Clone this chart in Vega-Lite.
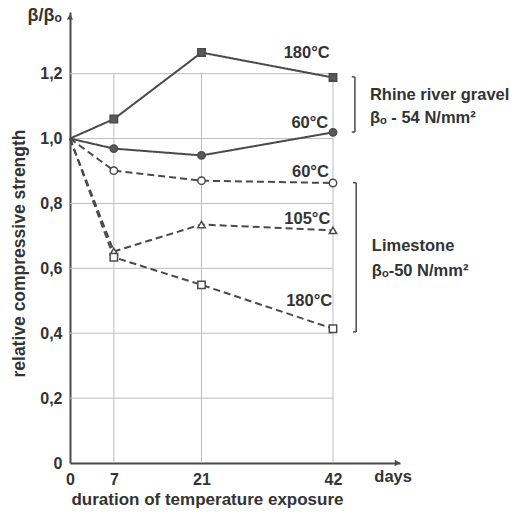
{
  "$schema": "https://vega.github.io/schema/vega-lite/v6.json",
  "width": 330,
  "height": 451,
  "autosize": "none",
  "padding": {"left": 70, "top": 12, "right": 122, "bottom": 51},
  "background": "white",
  "config": {
    "view": {"stroke": null},
    "font": "Liberation Sans",
    "axis": {"labelFont": "Liberation Sans", "titleFont": "Liberation Sans"}
  },
  "datasets": {
    "series": [
      {"series": "Rhine 180", "material": "Rhine", "day": 0, "value": 1.0},
      {"series": "Rhine 180", "material": "Rhine", "day": 7, "value": 1.06},
      {"series": "Rhine 180", "material": "Rhine", "day": 21, "value": 1.265},
      {"series": "Rhine 180", "material": "Rhine", "day": 42, "value": 1.188},
      {"series": "Rhine 60", "material": "Rhine", "day": 0, "value": 1.0},
      {"series": "Rhine 60", "material": "Rhine", "day": 7, "value": 0.969},
      {"series": "Rhine 60", "material": "Rhine", "day": 21, "value": 0.948},
      {"series": "Rhine 60", "material": "Rhine", "day": 42, "value": 1.019},
      {"series": "Lime 60", "material": "Limestone", "day": 0, "value": 1.0},
      {"series": "Lime 60", "material": "Limestone", "day": 7, "value": 0.901},
      {"series": "Lime 60", "material": "Limestone", "day": 21, "value": 0.87},
      {"series": "Lime 60", "material": "Limestone", "day": 42, "value": 0.863},
      {"series": "Lime 105", "material": "Limestone", "day": 0, "value": 1.0},
      {"series": "Lime 105", "material": "Limestone", "day": 7, "value": 0.652},
      {"series": "Lime 105", "material": "Limestone", "day": 21, "value": 0.735},
      {"series": "Lime 105", "material": "Limestone", "day": 42, "value": 0.717},
      {"series": "Lime 180", "material": "Limestone", "day": 0, "value": 1.0},
      {"series": "Lime 180", "material": "Limestone", "day": 7, "value": 0.634},
      {"series": "Lime 180", "material": "Limestone", "day": 21, "value": 0.549},
      {"series": "Lime 180", "material": "Limestone", "day": 42, "value": 0.414}
    ],
    "gridh": [{"y": 0.2}, {"y": 0.4}, {"y": 0.6}, {"y": 0.8}, {"y": 1.0}, {"y": 1.2}],
    "gridv": [{"x": 7}, {"x": 21}, {"x": 42}],
    "templabels": [
      {"x": 37.8, "y": 1.265, "text": "180°C"},
      {"x": 38.3, "y": 1.049, "text": "60°C"},
      {"x": 38.4, "y": 0.898, "text": "60°C"},
      {"x": 37.9, "y": 0.753, "text": "105°C"},
      {"x": 38.2, "y": 0.5, "text": "180°C"}
    ],
    "matlabels": [
      {"x": 47.9, "y": 1.135, "text": "Rhine river gravel"},
      {"x": 47.9, "y": 1.064, "text": "βₒ - 54 N/mm²"},
      {"x": 48.2, "y": 0.669, "text": "Limestone"},
      {"x": 48.2, "y": 0.592, "text": "βₒ-50 N/mm²"},
      {"x": 48.6, "y": -0.043, "text": "days"}
    ],
    "toplabel": [
      {"x": -6.8, "y": 1.379, "text": "β/βₒ"}
    ],
    "brackets": [
      {"x": 45.5, "x2": 45.5, "y": 1.19, "y2": 1.02},
      {"x": 45.0, "x2": 45.5, "y": 1.19, "y2": 1.19},
      {"x": 45.0, "x2": 45.5, "y": 1.02, "y2": 1.02},
      {"x": 45.7, "x2": 45.7, "y": 0.864, "y2": 0.404},
      {"x": 45.2, "x2": 45.7, "y": 0.864, "y2": 0.864},
      {"x": 45.2, "x2": 45.7, "y": 0.404, "y2": 0.404}
    ],
    "arrowup": [{"x": 0, "y": 1.375}],
    "arrowright": [{"x": 52.3, "y": 0}]
  },
  "layer": [
    {
      "data": {"name": "gridh"},
      "mark": {"type": "rule", "color": "#bdbdbd", "strokeWidth": 1},
      "encoding": {
        "x": {"datum": 0, "type": "quantitative", "scale": {"domain": [0, 52.7], "nice": false, "zero": false},
          "axis": {"values": [0, 7, 21, 42], "title": "duration of temperature exposure", "grid": false, "ticks": false,
            "domainColor": "#4a4a4a", "domainWidth": 2, "labelFontSize": 16, "labelFontWeight": "bold", "labelColor": "#333333",
            "labelPadding": 8, "titleFontSize": 17, "titleFontWeight": "bold", "titleColor": "#333333",
            "titleX": 137, "titleY": 36, "titleBaseline": "middle", "titleAlign": "center", "labelFlush": false}},
        "x2": {"datum": 42},
        "y": {"field": "y", "type": "quantitative", "scale": {"domain": [0, 1.39], "nice": false, "zero": false},
          "axis": {"values": [0, 0.2, 0.4, 0.6, 0.8, 1.0, 1.2], "title": "relative compressive strength", "grid": false, "ticks": false,
            "domainColor": "#4a4a4a", "domainWidth": 2, "labelFontSize": 16, "labelFontWeight": "bold", "labelColor": "#333333",
            "labelPadding": 8, "labelFlush": false,
            "labelExpr": "datum.value == 0 ? '0' : replace(format(datum.value, '.1f'), '.', ',')",
            "titleFontSize": 17.5, "titleFontWeight": "bold", "titleColor": "#333333",
            "titleX": -51, "titleY": 241, "titleAngle": -90, "titleBaseline": "middle", "titleAlign": "center"}}
      }
    },
    {
      "data": {"name": "gridv"},
      "mark": {"type": "rule", "color": "#bdbdbd", "strokeWidth": 1},
      "encoding": {
        "x": {"field": "x", "type": "quantitative"},
        "y": {"datum": 0, "type": "quantitative"},
        "y2": {"datum": 1.2}
      }
    },
    {
      "data": {"name": "series"},
      "mark": {"type": "line", "color": "#4a4a4a", "strokeWidth": 2},
      "encoding": {
        "x": {"field": "day", "type": "quantitative"},
        "y": {"field": "value", "type": "quantitative"},
        "detail": {"field": "series"},
        "strokeDash": {"field": "material", "type": "nominal", "scale": {"domain": ["Rhine", "Limestone"], "range": [[1, 0], [7, 4]]}, "legend": null}
      }
    },
    {
      "data": {"name": "series"},
      "transform": [{"filter": "datum.day > 0"}],
      "mark": {"type": "point", "stroke": "#4a4a4a", "strokeWidth": 1.5, "opacity": 1, "size": 55},
      "encoding": {
        "x": {"field": "day", "type": "quantitative"},
        "y": {"field": "value", "type": "quantitative"},
        "shape": {"field": "series", "type": "nominal", "scale": {"domain": ["Rhine 180", "Rhine 60", "Lime 60", "Lime 105", "Lime 180"], "range": ["square", "circle", "circle", "triangle-up", "square"]}, "legend": null},
        "fill": {"field": "series", "type": "nominal", "scale": {"domain": ["Rhine 180", "Rhine 60", "Lime 60", "Lime 105", "Lime 180"], "range": ["#5a5a5a", "#5a5a5a", "#ffffff", "#ffffff", "#ffffff"]}, "legend": null}
      }
    },
    {
      "data": {"name": "templabels"},
      "mark": {"type": "text", "fontSize": 16.5, "fontWeight": "bold", "color": "#333333", "align": "center", "baseline": "middle"},
      "encoding": {
        "x": {"field": "x", "type": "quantitative"},
        "y": {"field": "y", "type": "quantitative"},
        "text": {"field": "text"}
      }
    },
    {
      "data": {"name": "matlabels"},
      "mark": {"type": "text", "fontSize": 16.5, "fontWeight": "bold", "color": "#333333", "align": "left", "baseline": "middle"},
      "encoding": {
        "x": {"field": "x", "type": "quantitative"},
        "y": {"field": "y", "type": "quantitative"},
        "text": {"field": "text"}
      }
    },
    {
      "data": {"name": "toplabel"},
      "mark": {"type": "text", "fontSize": 18, "fontWeight": "bold", "color": "#333333", "align": "left", "baseline": "middle"},
      "encoding": {
        "x": {"field": "x", "type": "quantitative"},
        "y": {"field": "y", "type": "quantitative"},
        "text": {"field": "text"}
      }
    },
    {
      "data": {"name": "brackets"},
      "mark": {"type": "rule", "color": "#4a4a4a", "strokeWidth": 1.5},
      "encoding": {
        "x": {"field": "x", "type": "quantitative"},
        "x2": {"field": "x2"},
        "y": {"field": "y", "type": "quantitative"},
        "y2": {"field": "y2"}
      }
    },
    {
      "data": {"name": "arrowup"},
      "mark": {"type": "point", "shape": "triangle-up", "filled": true, "color": "#4a4a4a", "size": 40, "opacity": 1},
      "encoding": {
        "x": {"field": "x", "type": "quantitative"},
        "y": {"field": "y", "type": "quantitative"}
      }
    },
    {
      "data": {"name": "arrowright"},
      "mark": {"type": "point", "shape": "triangle-right", "filled": true, "color": "#4a4a4a", "size": 40, "opacity": 1},
      "encoding": {
        "x": {"field": "x", "type": "quantitative"},
        "y": {"field": "y", "type": "quantitative"}
      }
    }
  ]
}
